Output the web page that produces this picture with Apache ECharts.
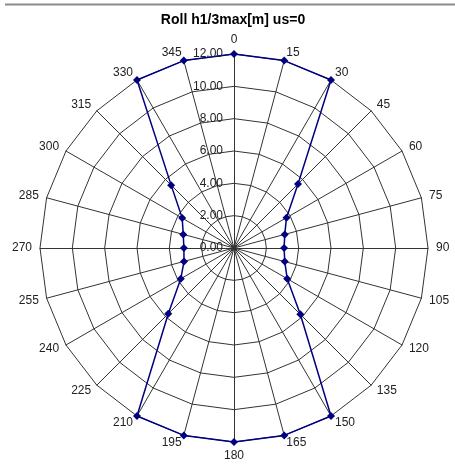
<!DOCTYPE html>
<html>
<head>
<meta charset="utf-8">
<script src="https://cdn.jsdelivr.net/npm/echarts@6/dist/echarts.min.js"></script>
<style>
  html, body { margin: 0; padding: 0; background: #fff; }
  #chart { width: 455px; height: 467px; }
</style>
</head>
<body>
<div id="chart"></div>
<script>
  // directions (deg) and roll values
  var directions = [0, 15, 30, 45, 60, 75, 90, 105, 120, 135, 150, 165,
                    180, 195, 210, 225, 240, 255, 270, 285, 300, 315, 330, 345];
  var rollValues = [12, 12, 12, 5.6, 3.75, 3.25, 3.1, 3.25, 3.8, 5.8, 12, 12,
                    12, 12, 12, 5.75, 3.8, 3.2, 3.1, 3.25, 3.7, 5.5, 12, 12];
  var radialTicks = [0, 2, 4, 6, 8, 10, 12];

  var titleText = 'Roll h1/3max[m] us=0';

  // radar runs counter-clockwise, so walk the directions backwards from 0
  var order = [0];
  for (var i = directions.length - 1; i > 0; i--) order.push(i);

  var indicators = order.map(function (i) {
    return { name: String(directions[i]), min: 0, max: 12 };
  });
  var values = order.map(function (i) { return rollValues[i]; });

  var center = [234, 248];
  var radius = 194;

  var chart = echarts.init(document.getElementById('chart'));

  var option = {
    animation: false,
    title: {
      text: titleText,
      left: 228,
      top: 8,
      textAlign: 'center',
      textStyle: {
        fontFamily: 'Liberation Sans, Arial, sans-serif',
        fontSize: 14,
        fontWeight: 'bold',
        color: '#000'
      }
    },
    graphic: [{
      type: 'line',
      shape: { x1: 5, y1: 4.5, x2: 455, y2: 4.5 },
      style: { stroke: '#8a8a8a', lineWidth: 2 }
    }],
    radar: {
      center: center,
      radius: radius,
      startAngle: 90,
      shape: 'polygon',
      splitNumber: radialTicks.length - 1,
      indicator: indicators,
      axisName: {
        color: '#222',
        fontFamily: 'Liberation Sans, Arial, sans-serif',
        fontSize: 12
      },
      nameGap: 8,
      axisLine: { lineStyle: { color: '#333', width: 1 } },
      splitLine: { lineStyle: { color: '#333', width: 1 } },
      splitArea: { show: false },
      axisTick: { show: false },
      axisLabel: { show: false }
    },
    polar: {
      center: center,
      radius: radius
    },
    angleAxis: {
      type: 'value',
      startAngle: 90,
      min: 0,
      max: 360,
      show: false
    },
    radiusAxis: {
      type: 'value',
      min: 0,
      max: 12,
      interval: 2,
      axisLine: { show: false },
      axisTick: { show: false },
      splitLine: { show: false },
      axisLabel: {
        margin: 11,
        fontFamily: 'Liberation Sans, Arial, sans-serif',
        fontSize: 12,
        color: '#222',
        formatter: function (v) { return v.toFixed(2); }
      },
      z: 5
    },
    series: [{
      type: 'radar',
      symbol: 'diamond',
      symbolSize: 8,
      lineStyle: { color: '#000080', width: 1.5 },
      itemStyle: { color: '#000080' },
      data: [{ value: values, name: titleText }]
    }]
  };

  chart.setOption(option);
  window.addEventListener('resize', function () {
    chart.resize();
  });
</script>
</body>
</html>
